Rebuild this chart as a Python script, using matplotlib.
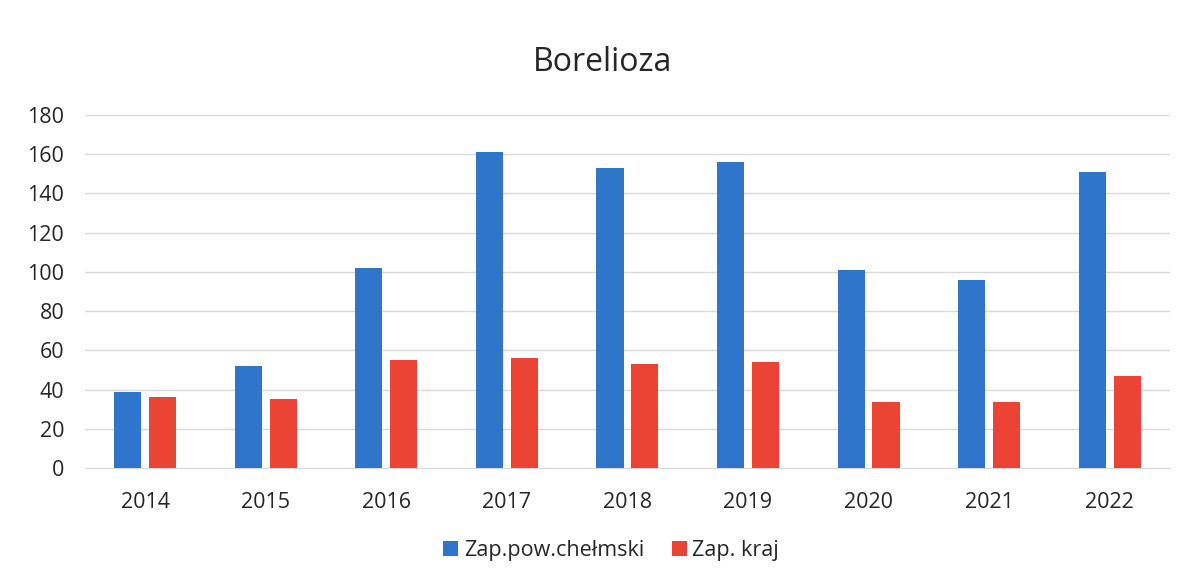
import numpy as np
import matplotlib.pyplot as plt

plt.rcParams["font.family"] = ["Open Sans", "DejaVu Sans"]

years = ["2014", "2015", "2016", "2017", "2018", "2019", "2020", "2021", "2022"]
chelm = [39, 52, 102, 161, 153, 156, 101, 96, 151]
kraj = [36, 35, 55, 56, 53, 54, 33.5, 33.5, 47]
labels = ["Zap.pow.chełmski", "Zap. kraj"]
colors = ["#2F75CC", "#EB4434"]

fig = plt.figure(figsize=(11.87, 5.83), dpi=100)
ax = fig.add_axes([0.0716, 0.197, 0.914, 0.606])

x = np.arange(len(years))
w = 0.225
ax.bar(x - 0.145, chelm, w, color=colors[0], label=labels[0], zorder=3)
ax.bar(x + 0.145, kraj, w, color=colors[1], label=labels[1], zorder=3)

ax.set_xlim(-0.5, len(years) - 0.5)
ax.set_ylim(0, 180)
ax.set_yticks(np.arange(0, 181, 20))
ax.set_xticks(x)
ax.set_xticklabels(years)
ax.tick_params(axis="both", length=0, labelsize=15.5, colors="#262626")
ax.tick_params(axis="x", pad=17)
ax.tick_params(axis="y", pad=15)
ax.grid(axis="y", color="#D9D9D9", linewidth=1, zorder=0)
for s in ["top", "right", "left"]:
    ax.spines[s].set_visible(False)
ax.spines["bottom"].set_color("#D9D9D9")

fig.text(0.508, 0.893, "Borelioza", ha="center", va="center", fontsize=23, color="#262626")
fig.legend(loc="center", bbox_to_anchor=(0.515, 0.055), ncol=2, frameon=False,
           fontsize=15.5, handlelength=0.7, handleheight=0.7, handletextpad=0.25,
           columnspacing=1.3, labelcolor="#262626")

fig.savefig("out.png", dpi=100)
